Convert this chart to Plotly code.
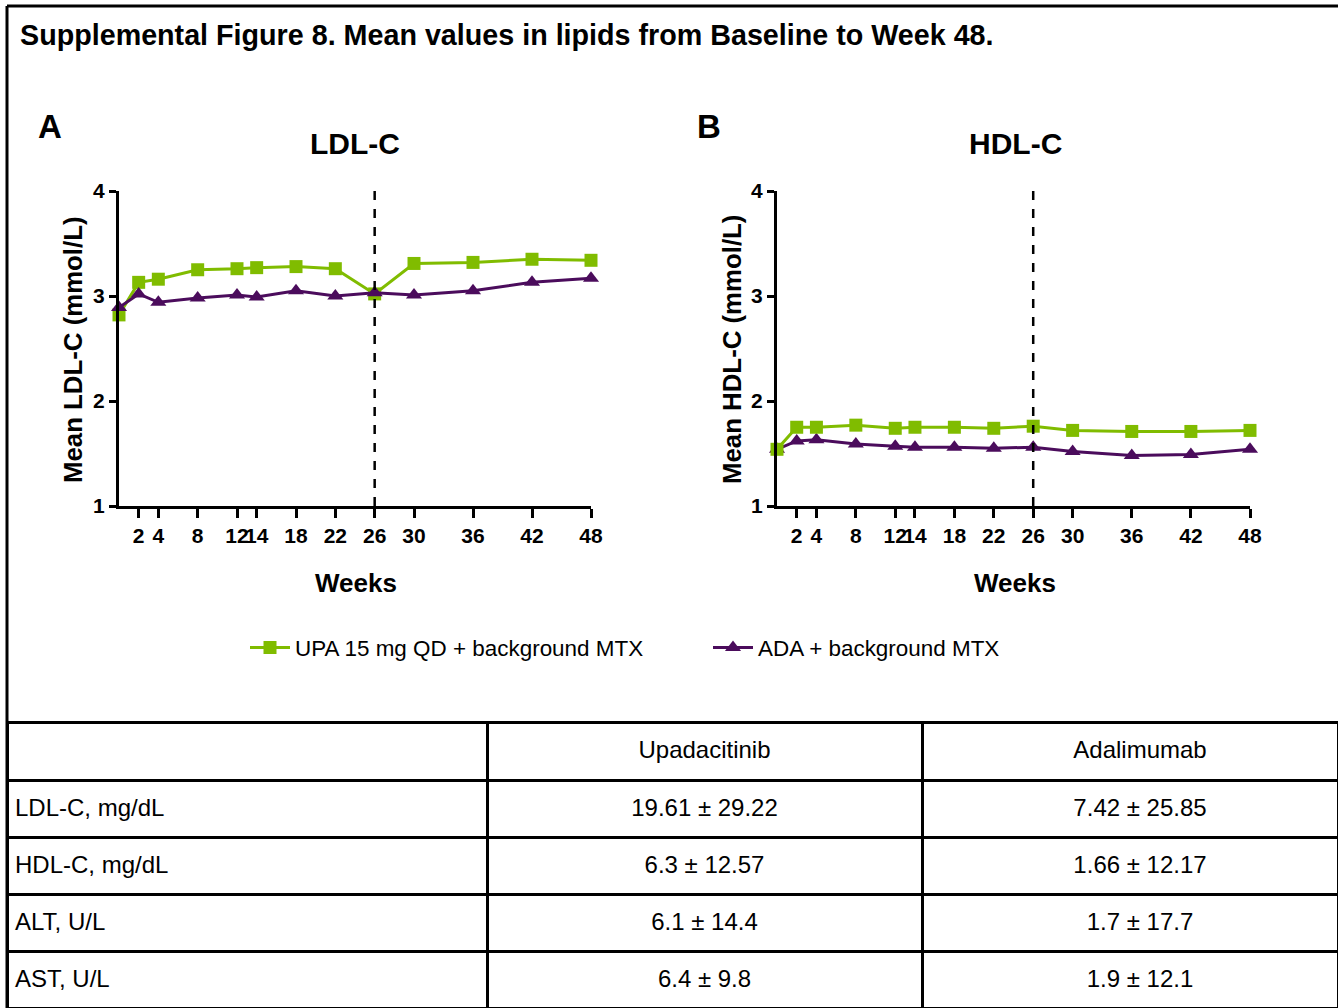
import plotly.graph_objects as go

# ---------------- data ----------------
weeks = [0, 2, 4, 8, 12, 14, 18, 22, 26, 30, 36, 42, 48]
ldl_upa = [2.82, 3.13, 3.16, 3.25, 3.26, 3.27, 3.28, 3.26, 3.02, 3.31, 3.32, 3.35, 3.34]
ldl_ada = [2.89, 3.02, 2.94, 2.98, 3.01, 2.99, 3.05, 3.00, 3.03, 3.01, 3.05, 3.13, 3.17]
hdl_upa = [1.54, 1.75, 1.75, 1.77, 1.74, 1.75, 1.75, 1.74, 1.76, 1.72, 1.71, 1.71, 1.72]
hdl_ada = [1.54, 1.62, 1.63, 1.59, 1.57, 1.56, 1.56, 1.55, 1.56, 1.52, 1.48, 1.49, 1.54]
tick_weeks = [2, 4, 8, 12, 14, 18, 22, 26, 30, 36, 42, 48]
y_ticks = [1, 2, 3, 4]
cutoff_week = 26
series_names = ["UPA 15 mg QD + background MTX", "ADA + background MTX"]

table_header = ["", "Upadacitinib", "Adalimumab"]
table_rows = ["LDL-C, mg/dL", "HDL-C, mg/dL", "ALT, U/L", "AST, U/L"]
upa_change = ["19.61 ± 29.22", "6.3 ± 12.57", "6.1 ± 14.4", "6.4 ± 9.8"]
ada_change = ["7.42 ± 25.85", "1.66 ± 12.17", "1.7 ± 17.7", "1.9 ± 12.1"]

# ---------------- styles ----------------
W, H = 1338, 1008
FONT = "Liberation Sans, Arial, sans-serif"
GREEN = "#80BC00"
PURPLE = "#4B0C5C"
TABLE_TEXT = 24
COLW = [480, 435, 416]
# text layer: last column is visually cut by the page edge, so its text
# is centred on the full (partly off-page) column via a narrow spacer column
TEXT_COLW = [480, 435, 20, 396]

def px_x(p):
    return p / W

def px_y(p):
    return (H - p) / H

fig = go.Figure()

def add_series(x, y, name, color, symbol, size, xa, ya, showlegend):
    fig.add_trace(go.Scatter(
        x=x, y=y, name=name, mode="lines+markers",
        line=dict(color=color, width=3),
        marker=dict(color=color, symbol=symbol, size=size),
        xaxis=xa, yaxis=ya, showlegend=showlegend, cliponaxis=False,
    ))

# panel A
add_series(weeks, ldl_upa, series_names[0], GREEN, "square", 13, "x", "y", True)
add_series(weeks, ldl_ada, series_names[1], PURPLE, "triangle-up", 14, "x", "y", True)
# panel B
add_series(weeks, hdl_ada, series_names[1], PURPLE, "triangle-up", 14, "x2", "y2", False)
add_series(weeks, hdl_upa, series_names[0], GREEN, "square", 13, "x2", "y2", False)

tickfont = dict(family=FONT, size=21, color="black", weight="bold")
xcommon = dict(range=[0, 48], tickvals=tick_weeks, showline=True, linecolor="black",
               linewidth=3, ticks="outside", ticklen=9, tickwidth=3, tickcolor="black",
               tickfont=tickfont, tickangle=0, showgrid=False, zeroline=False, fixedrange=True)
ycommon = dict(range=[1, 4], tickvals=y_ticks, showline=True, linecolor="black",
               linewidth=3, ticks="outside", ticklen=7, tickwidth=3, tickcolor="black",
               tickfont=tickfont, showgrid=False, zeroline=False, fixedrange=True)

fig.update_layout(
    width=W, height=H, margin=dict(l=0, r=0, t=0, b=0, autoexpand=False),
    paper_bgcolor="white", plot_bgcolor="white",
    font=dict(family=FONT, color="black"),
    xaxis=dict(domain=[px_x(119), px_x(591)], anchor="y", **xcommon),
    yaxis=dict(domain=[px_y(506), px_y(191)], anchor="x", **ycommon),
    xaxis2=dict(domain=[px_x(777), px_x(1250)], anchor="y2", **xcommon),
    yaxis2=dict(domain=[px_y(506), px_y(191)], anchor="x2", **ycommon),
    legend=dict(orientation="h", x=px_x(245), y=px_y(648), xanchor="left", yanchor="middle",
                font=dict(family=FONT, size=22.45, color="black"), bgcolor="rgba(0,0,0,0)",
                entrywidth=408, entrywidthmode="pixels", itemwidth=40),
    showlegend=True,
)

# dashed vertical lines at week 26
for xr, yr in (("x", "y"), ("x2", "y2")):
    fig.add_shape(type="line", xref=xr, yref=yr, x0=cutoff_week, x1=cutoff_week, y0=1, y1=4,
                  line=dict(color="black", width=2.5, dash="dash"))

# outer frame (top and left)
fig.add_shape(type="line", xref="paper", yref="paper", x0=px_x(7), x1=1, y0=px_y(6), y1=px_y(6),
              line=dict(color="black", width=3))
fig.add_shape(type="line", xref="paper", yref="paper", x0=px_x(7), x1=px_x(7), y0=0, y1=px_y(6),
              line=dict(color="black", width=3))

def ann(text, x, y, size, bold=True, angle=0, xanchor="center"):
    fig.add_annotation(text=text, xref="paper", yref="paper", x=px_x(x), y=px_y(y),
                       xanchor=xanchor, yanchor="middle", showarrow=False, textangle=angle,
                       font=dict(family=FONT, size=size, color="black",
                                 weight="bold" if bold else "normal"))

ann("Supplemental Figure 8. Mean values in lipids from Baseline to Week 48.", 18, 35, 28.7, xanchor="left")
ann("A", 50, 126, 33)
ann("B", 709, 126, 33)
ann("LDL-C", 355, 143, 30)
ann("HDL-C", 1015, 143, 30)
ann("Mean LDL-C (mmol/L)", 73, 350, 25.8, angle=-90)
ann("Mean HDL-C (mmol/L)", 732, 350, 25.8, angle=-90)
ann("Weeks", 356, 583, 26)
ann("Weeks", 1015, 583, 26)

# table: grid layer (borders) and text layer (shifted down to centre text in rows)
blank = [""] * len(table_rows)
fig.add_trace(go.Table(
    domain=dict(x=[px_x(7), 1], y=[0, px_y(722)]),
    columnwidth=COLW,
    header=dict(values=["", "", ""], height=58,
                line=dict(color="black", width=3), fill=dict(color="white")),
    cells=dict(values=[blank, blank, blank], height=57,
               line=dict(color="black", width=3), fill=dict(color="white")),
))
fig.add_trace(go.Table(
    domain=dict(x=[px_x(7), 1], y=[0, px_y(732)]),
    columnwidth=TEXT_COLW,
    header=dict(values=[table_header[0], table_header[1], "", table_header[2]], height=58,
                align=["left", "center", "center", "center"],
                line=dict(color="rgba(0,0,0,0)", width=0), fill=dict(color="rgba(0,0,0,0)"),
                font=dict(family=FONT, size=TABLE_TEXT, color="black")),
    cells=dict(values=[table_rows, upa_change, blank, ada_change], height=57,
               align=["left", "center", "center", "center"],
               line=dict(color="rgba(0,0,0,0)", width=0), fill=dict(color="rgba(0,0,0,0)"),
               font=dict(family=FONT, size=TABLE_TEXT, color="black")),
))

post = "document.body.style.margin='0';"

fig.write_html("out.html", post_script=post, config={"displayModeBar": False})
